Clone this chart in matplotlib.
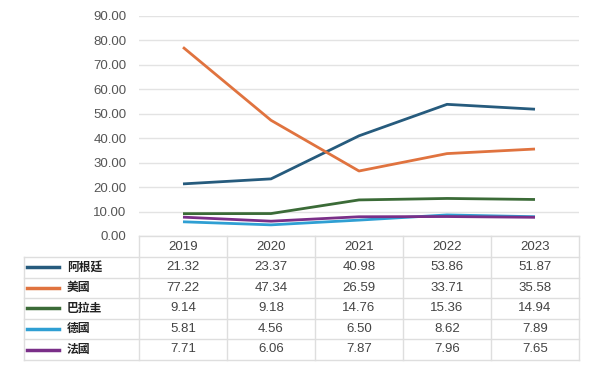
import matplotlib
matplotlib.use("Agg")
import matplotlib.pyplot as plt
from matplotlib.lines import Line2D

plt.rcParams['font.family'] = ['Liberation Sans', 'Noto Sans CJK TC', 'DejaVu Sans']

years = ["2019", "2020", "2021", "2022", "2023"]
series_names = ["阿根廷", "美國", "巴拉圭", "德國", "法國"]
argentina = [21.32, 23.37, 40.98, 53.86, 51.87]
usa = [77.22, 47.34, 26.59, 33.71, 35.58]
paraguay = [9.14, 9.18, 14.76, 15.36, 14.94]
germany = [5.81, 4.56, 6.50, 8.62, 7.89]
france = [7.71, 6.06, 7.87, 7.96, 7.65]
series = [argentina, usa, paraguay, germany, france]
colors = ["#265b7d", "#e0733f", "#3b6b37", "#2f9fd3", "#7a2f88"]
yticks = [0, 10, 20, 30, 40, 50, 60, 70, 80, 90]

W, H = 595, 367
fig = plt.figure(figsize=(W / 100, H / 100), dpi=100)

def fx(x):
    return x / W

def fy(y):
    return 1 - y / H

L, R, T, B = 139, 579, 16, 236
ax = fig.add_axes([fx(L), fy(B), fx(R) - fx(L), fy(T) - fy(B)])
xs = list(range(len(years)))
for vals, c in zip(series, colors):
    ax.plot(xs, vals, color=c, lw=2.0, solid_capstyle='butt', zorder=3)
ax.set_xlim(-0.5, len(years) - 0.5)
ax.set_ylim(0, 90)
ax.set_yticks(yticks)
ax.set_yticklabels([f"{v:.2f}" for v in yticks])
ax.tick_params(axis='y', length=0, pad=9, labelsize=9.5, labelcolor='#555555')
ax.set_xticks([])
for s in ax.spines.values():
    s.set_visible(False)
ax.grid(axis='y', color='#e3e3e3', lw=1)
ax.set_axisbelow(True)

# Data table
grid_c = '#dedede'
col_edges = [L + i * (R - L) / len(years) for i in range(len(years) + 1)]
row_edges = [236, 257, 277.5, 298, 318.5, 339, 360]
legend_left = 24

def hline(y, x0, x1):
    fig.add_artist(Line2D([fx(x0), fx(x1)], [fy(y), fy(y)], transform=fig.transFigure,
                          color=grid_c, lw=1))

def vline(x, y0, y1):
    fig.add_artist(Line2D([fx(x), fx(x)], [fy(y0), fy(y1)], transform=fig.transFigure,
                          color=grid_c, lw=1))

hline(row_edges[0], L, R)
for y in row_edges[1:]:
    hline(y, legend_left, R)
for x in col_edges:
    vline(x, row_edges[0], row_edges[-1])
vline(legend_left, row_edges[1], row_edges[-1])

# header
for i, yr in enumerate(years):
    cx = (col_edges[i] + col_edges[i + 1]) / 2
    cy = (row_edges[0] + row_edges[1]) / 2
    fig.text(fx(cx), fy(cy), yr, ha='center', va='center', fontsize=9.5, color='#444444')

for r, (name, vals, c) in enumerate(zip(series_names, series, colors)):
    cy = (row_edges[r + 1] + row_edges[r + 2]) / 2
    fig.add_artist(Line2D([fx(27), fx(59)], [fy(cy), fy(cy)], transform=fig.transFigure,
                          color=c, lw=2.5))
    fig.text(fx(67), fy(cy), name, ha='left', va='center', fontsize=8.5, color='#222222',
             fontweight='bold', family=['Noto Sans CJK TC', 'DejaVu Sans'])
    for i, v in enumerate(vals):
        cx = (col_edges[i] + col_edges[i + 1]) / 2
        fig.text(fx(cx), fy(cy), f"{v:.2f}", ha='center', va='center', fontsize=9.5,
                 color='#444444')

fig.savefig("out.png", dpi=100)
